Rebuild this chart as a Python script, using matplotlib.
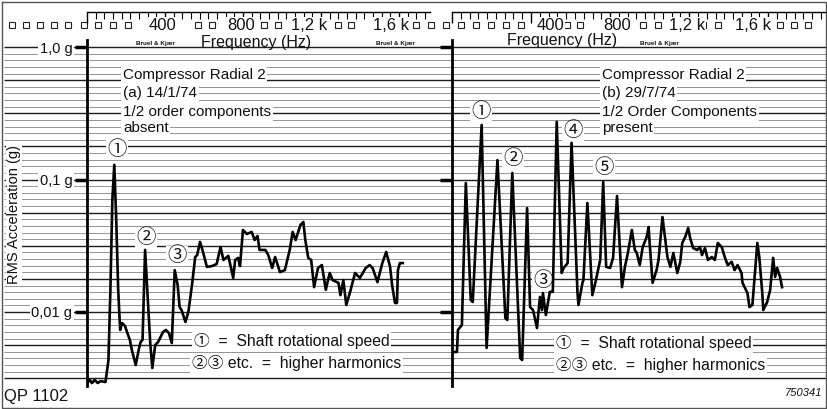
import numpy as np
import matplotlib
matplotlib.use("Agg")
import matplotlib.pyplot as plt
from matplotlib.transforms import Affine2D, blended_transform_factory
from matplotlib.ticker import FixedLocator, NullLocator

plt.rcParams['font.family'] = ['Liberation Sans', 'Noto Sans CJK JP', 'DejaVu Sans']

# ---------------- data ----------------
# (a) 14/1/74 : frequency (Hz) and RMS acceleration (g)
freq_a = [0, 15, 25, 40, 55, 70, 95, 110, 120, 130, 140, 150, 160, 170, 180, 195, 205, 220,
          230, 250, 265, 275, 285, 298, 315, 325, 335, 350, 365, 390, 405, 420, 435, 450,
          465, 475, 485, 505, 520, 540, 555, 565, 580, 595, 615, 640, 665, 685, 700, 725,
          750, 760, 775, 785, 800, 820, 845, 860, 875, 885, 915, 930, 950, 965, 990, 1015,
          1040, 1055, 1070, 1095, 1110, 1120, 1135, 1150, 1165, 1185, 1205, 1225, 1245,
          1260, 1290, 1300, 1315, 1330, 1350, 1375, 1400, 1430, 1450, 1465, 1490, 1515,
          1535, 1555, 1565, 1580, 1590, 1595, 1605, 1620]
acc_a = [0.00291, 0.00307, 0.00291, 0.00307, 0.00291, 0.00301, 0.00296, 0.00434, 0.0147,
         0.0700, 0.129, 0.0495, 0.0147, 0.00732, 0.00826, 0.00784, 0.00707, 0.00615,
         0.00517, 0.00398, 0.00517, 0.00594, 0.00615, 0.0294, 0.01035, 0.00564, 0.00378,
         0.00564, 0.00594, 0.00707, 0.00732, 0.00694, 0.00583, 0.0207, 0.0160, 0.0109,
         0.01035, 0.00841, 0.0100, 0.0166, 0.0260, 0.0269, 0.0338, 0.0284, 0.0219, 0.0222,
         0.0230, 0.0309, 0.0247, 0.0265, 0.0181, 0.0247, 0.0256, 0.0222, 0.0416, 0.0388,
         0.0402, 0.0349, 0.0375, 0.0294, 0.0294, 0.0269, 0.0215, 0.0260, 0.0200, 0.0207,
         0.0294, 0.0402, 0.0349, 0.0454, 0.0478, 0.0349, 0.0256, 0.0247, 0.0154, 0.0215,
         0.0226, 0.0147, 0.0197, 0.0174, 0.0166, 0.0134, 0.0174, 0.0113, 0.0142, 0.0197,
         0.0181, 0.0215, 0.0226, 0.0215, 0.0168, 0.0234, 0.0284, 0.0219, 0.0160, 0.0117,
         0.0117, 0.0207, 0.0234, 0.0234]

# (b) 29/7/74
freq_b = [0, 25, 30, 50, 70, 95, 105, 150, 175, 230, 270, 280, 305, 345, 355, 380, 395, 410,
          430, 445, 455, 460, 475, 495, 510, 530, 555, 565, 585, 605, 635, 640, 660, 665,
          685, 710, 725, 750, 765, 780, 800, 815, 835, 860, 875, 890, 910, 925, 935, 950,
          965, 985, 995, 1000, 1015, 1035, 1045, 1065, 1090, 1105, 1120, 1140, 1155, 1165,
          1180, 1195, 1205, 1220, 1240, 1255, 1265, 1280, 1295, 1315, 1330, 1345, 1365,
          1380, 1395, 1415, 1430, 1445, 1465, 1470, 1495, 1505, 1520, 1530, 1545, 1555,
          1570, 1575, 1595, 1610, 1625, 1635, 1645, 1660, 1670]
acc_b = [0.00499, 0.00499, 0.00732, 0.00798, 0.0941, 0.0123, 0.0119, 0.258, 0.00535, 0.140,
         0.00901, 0.00870, 0.112, 0.00450, 0.00434, 0.0609, 0.0109, 0.01035, 0.00757,
         0.0130, 0.01035, 0.0139, 0.00949, 0.0142, 0.0142, 0.272, 0.0197, 0.0215, 0.0234,
         0.189, 0.0139, 0.0113, 0.0166, 0.0174, 0.0665, 0.0134, 0.0166, 0.0247, 0.0958,
         0.0219, 0.0215, 0.0256, 0.0751, 0.0154, 0.0219, 0.0279, 0.0416, 0.0294, 0.0279,
         0.0226, 0.0309, 0.0368, 0.0438, 0.0332, 0.0166, 0.0207, 0.0247, 0.0521, 0.0260,
         0.0219, 0.0279, 0.0197, 0.0239, 0.0332, 0.0368, 0.0431, 0.0362, 0.0304, 0.0294,
         0.0309, 0.0269, 0.0304, 0.0247, 0.0260, 0.0247, 0.0332, 0.0309, 0.0260, 0.0226,
         0.0239, 0.0207, 0.0226, 0.0197, 0.0166, 0.0139, 0.0109, 0.0113, 0.0174, 0.0332,
         0.0260, 0.0139, 0.01035, 0.0119, 0.0147, 0.0256, 0.0184, 0.0215, 0.0184, 0.0154]

level_ticks = [0.01, 0.1, 1.0]
level_labels = ['0,01 g', '0,1 g', '1,0 g']
freq_labels = ['400', '800', '1,2 k', '1,6 k']
freq_label_pos_a = [385, 790, 1140, 1560]   # where they are printed on the paper
freq_label_pos_b = [496, 835, 1190, 1523]
paper_db = np.arange(0, 51)                  # 1 dB chart-paper rulings

# ---------------- layout ----------------
W, H = 827, 409
fig = plt.figure(figsize=(W / 100, H / 100), dpi=100)
pix = Affine2D().scale(1 / W, -1 / H).translate(0, 1) + fig.transFigure

Y1G = 47.0        # pixel row of 1.0 g
DEC = 132.5       # pixels per decade


def g_at(ypix):
    return 10 ** (-(ypix - Y1G) / DEC)


paper = fig.add_axes([0, 0, 1, 1], zorder=0)
paper.set_yscale('log')
paper.set_xlim(0, W)
paper.set_ylim(g_at(H), g_at(0))
paper.axis('off')

for k in paper_db:
    g = 10 ** (-k / 20)
    major = (k % 5 == 0)
    paper.plot([4, W], [g, g], color='#1e1e1e' if major else '#8c8c8c',
               lw=1.0 if major else 0.65, zorder=1, solid_capstyle='butt')

# frame
paper.plot([1.5, W - 1.5, W - 1.5, 1.5, 1.5], [1.5, 1.5, H - 1.5, H - 1.5, 1.5],
           transform=pix, color='#555555', lw=1.0, clip_on=False)

# perforation squares
sq_x = [12, 26, 40, 54, 68, 84, 98, 113, 128, 198, 212, 264, 278, 338, 351,
        416, 431, 446, 461, 476, 491, 506, 521, 567, 580, 643, 658, 703, 718, 780, 794, 808]
paper.plot(sq_x, [25] * len(sq_x), 's', transform=pix, mfc='white', mec='#222222',
           ms=4.4, mew=0.8, clip_on=False, zorder=2)

wbox = dict(facecolor='white', edgecolor='none', pad=1.2)
tkw = dict(transform=pix, zorder=3, color='#111111')


def ptext(x, y, s, **kw):
    d = dict(tkw)
    d.update(kw)
    return paper.text(x, y, s, **d)


# annotations panel (a)
for yy, s in zip([75, 93, 112, 128],
                 ['Compressor Radial 2', '(a) 14/1/74', '1/2 order components', 'absent']):
    ptext(123, yy, s, fontsize=11, ha='left', va='center', bbox=wbox)
# annotations panel (b)
for yy, s in zip([75, 93, 112, 128],
                 ['Compressor Radial 2', '(b) 29/7/74', '1/2 Order Components', 'present']):
    ptext(602, yy, s, fontsize=11, ha='left', va='center', bbox=wbox)

# circled peak markers
circ = [(117, 150, '①'), (146, 238, '②'), (177, 256, '③'),
        (481, 112, '①'), (513, 159, '②'), (543, 281, '③'), (573, 131, '④'), (604, 168, '⑤')]
for x, y, s in circ:
    ptext(x, y, s, fontsize=14, ha='center', va='center',
          bbox=dict(facecolor='white', edgecolor='none', pad=0.5))

# key
ptext(194, 341, '①  =  Shaft rotational speed', fontsize=11.3, ha='left', va='center', bbox=wbox)
ptext(192, 363, '②③ etc.  =  higher harmonics', fontsize=11.3, ha='left', va='center', bbox=wbox)
ptext(556, 343, '①  =  Shaft rotational speed', fontsize=11.3, ha='left', va='center', bbox=wbox)
ptext(556, 365, '②③ etc.  =  higher harmonics', fontsize=11.3, ha='left', va='center', bbox=wbox)

# header texts
ptext(256, 42, 'Frequency (Hz)', fontsize=11.5, ha='center', va='center')
ptext(562, 41, 'Frequency (Hz)', fontsize=11.5, ha='center', va='center')
for xb in [156, 395, 660]:
    ptext(xb, 44, 'Bruel & Kjær', fontsize=4.6, fontweight='bold', ha='center', va='center')

ptext(14, 215, 'RMS Acceleration (g)', fontsize=10.5, rotation=90, ha='center', va='center',
      bbox=dict(facecolor='white', edgecolor='none', pad=1))
ptext(4, 397, 'QP 1102', fontsize=12, ha='left', va='center')
ptext(822, 393, '750341', fontsize=8, style='italic', ha='right', va='center')

# ---------------- data panels ----------------
top_px, bot_px = 12, 392
panels = [
    dict(x0=87, x1=445, hz_per_px=5.13, f=freq_a, a=acc_a, lab=freq_label_pos_a,
         spine_end=1760, labels=True),
    dict(x0=452, x1=W, hz_per_px=5.06, f=freq_b, a=acc_b, lab=freq_label_pos_b,
         spine_end=1898, labels=False),
]
for p in panels:
    ax = fig.add_axes([p['x0'] / W, 1 - bot_px / H, (p['x1'] - p['x0']) / W,
                       (bot_px - top_px) / H], zorder=1)
    ax.patch.set_visible(False)
    ax.set_yscale('log')
    xmax = (p['x1'] - p['x0']) * p['hz_per_px']
    ax.set_xlim(0, xmax)
    ax.set_ylim(g_at(bot_px), g_at(top_px))

    ax.plot(p['f'], p['a'], color='black', lw=1.9, solid_joinstyle='round', zorder=5)

    for s in ['right', 'bottom']:
        ax.spines[s].set_visible(False)
    ax.spines['left'].set_linewidth(2.0)
    ax.spines['left'].set_bounds(g_at(386), g_at(40))
    ax.spines['top'].set_linewidth(1.0)
    ax.spines['top'].set_bounds(0, p['spine_end'])

    ax.xaxis.set_ticks_position('top')
    ax.xaxis.set_major_locator(FixedLocator(np.arange(0, p['spine_end'], 400)))
    ax.xaxis.set_minor_locator(FixedLocator(np.arange(0, p['spine_end'], 400 / 9)))
    ax.tick_params(axis='x', which='major', direction='in', length=8, width=1.0,
                   labeltop=False, labelbottom=False)
    ax.tick_params(axis='x', which='minor', direction='in', length=5, width=0.8)

    ax.set_yticks(level_ticks)
    ax.yaxis.set_minor_locator(NullLocator())
    ax.tick_params(axis='y', which='major', direction='out', length=9, width=2.5, pad=1.5,
                   labelsize=10.5, labelleft=p['labels'])
    if p['labels']:
        ax.set_yticklabels(level_labels)
        for lab in ax.get_yticklabels():
            lab.set_bbox(dict(facecolor='white', edgecolor='none', pad=1))
            lab.set_color('#111111')

    for fpos, s in zip(p['lab'], freq_labels):
        ax.text(fpos, 25, s, transform=blended_transform_factory(ax.transData, pix),
                fontsize=12, ha='center', va='center', color='#111111', clip_on=False,
                bbox=dict(facecolor='white', edgecolor='none', pad=0.5))

fig.savefig('out.png', dpi=100)
